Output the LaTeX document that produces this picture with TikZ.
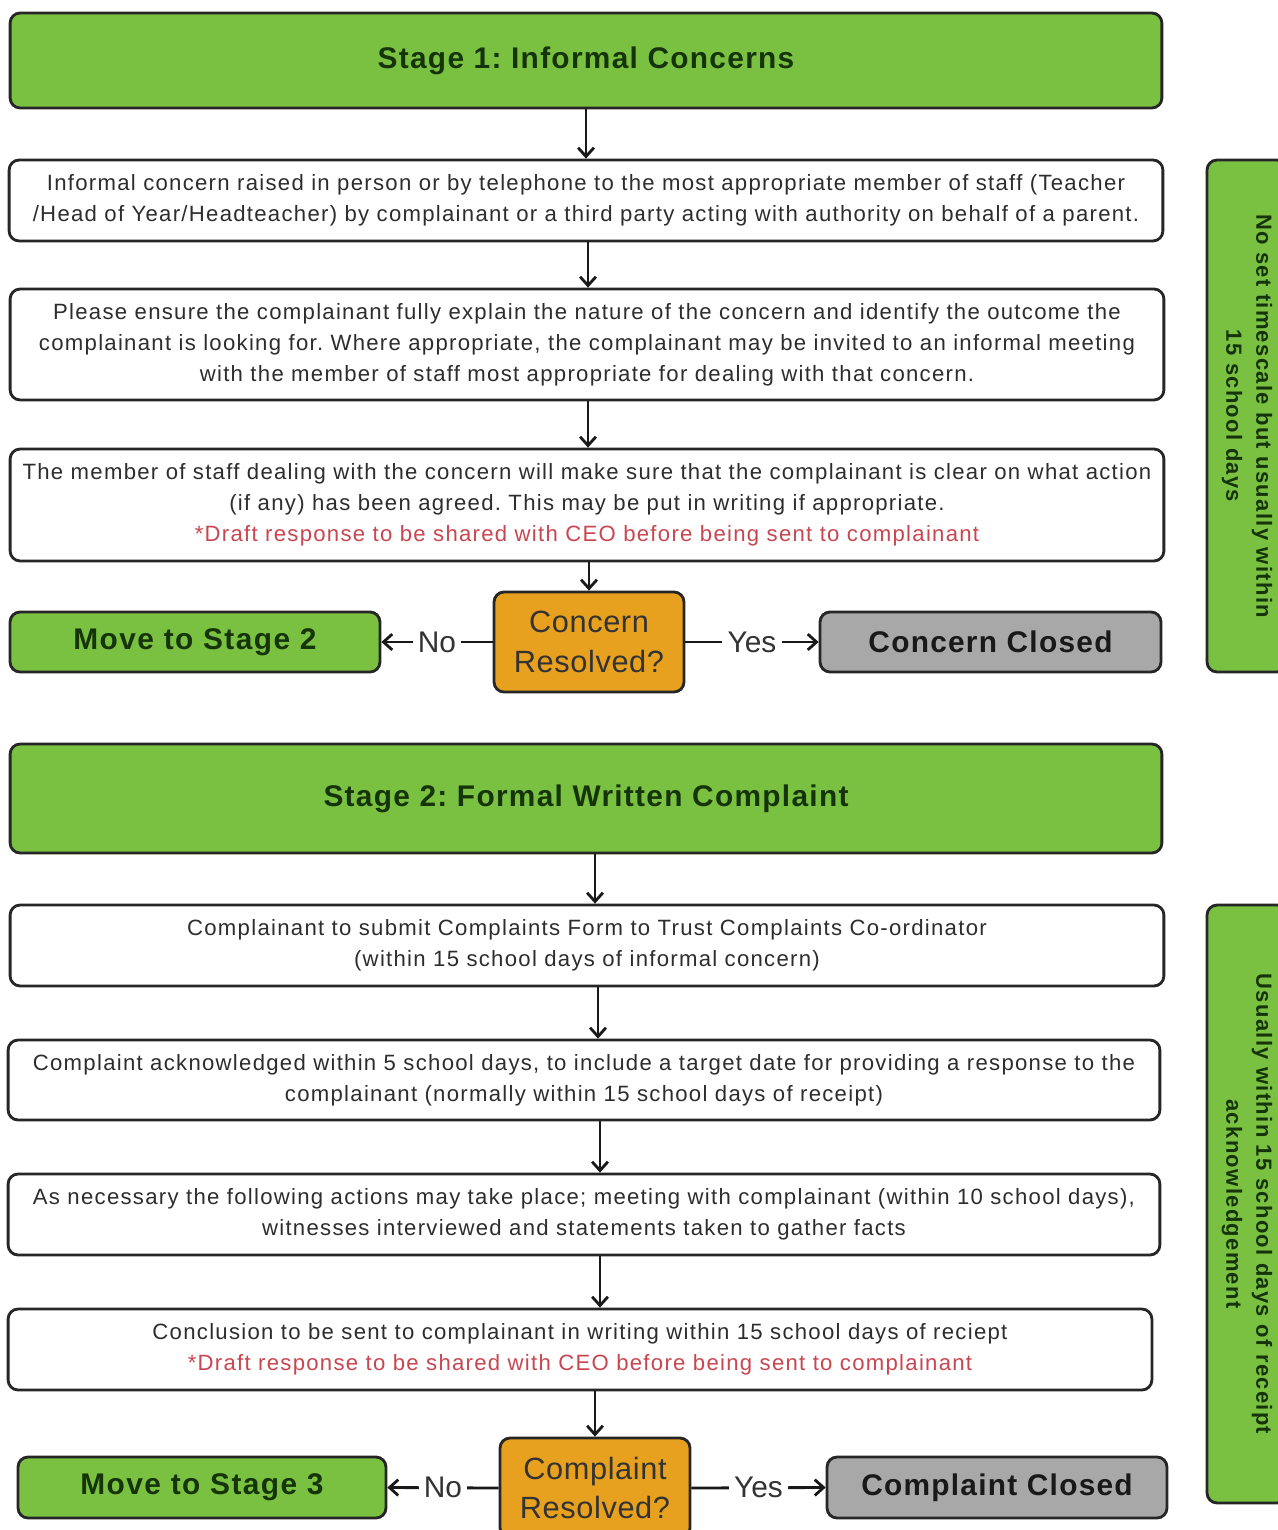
\documentclass[tikz,border=0pt]{standalone}
\usepackage{fontspec}
\setmainfont{Liberation Sans}
\usetikzlibrary{arrows.meta}
\definecolor{stagegreen}{RGB}{122,193,66}
\definecolor{darkgreen}{RGB}{22,52,10}
\definecolor{deciorange}{RGB}{232,161,30}
\definecolor{closegray}{RGB}{168,168,168}
\definecolor{bodygray}{RGB}{45,45,45}
\definecolor{ceored}{RGB}{200,70,80}
\tikzset{
  boxline/.style={draw=black!85,line width=1.6pt,rounded corners=0.2cm,inner sep=0pt},
  stagebox/.style={boxline,fill=stagegreen,text=darkgreen,font=\fontsize{17}{20}\selectfont\bfseries\addfontfeatures{LetterSpace=4.3},minimum width=23.04cm},
  textbox/.style={boxline,fill=white,text=bodygray,align=center,font=\fontsize{12.6}{17.6}\selectfont\addfontfeatures{LetterSpace=5.8},minimum width=23.08cm,minimum height=1.62cm},
  decision/.style={boxline,fill=deciorange,text=black!80,align=center,font=\fontsize{17.5}{22.7}\selectfont\addfontfeatures{LetterSpace=2},minimum width=3.8cm,minimum height=2cm},
  movebox/.style={boxline,fill=stagegreen,text=darkgreen,font=\fontsize{17}{20}\selectfont\bfseries\addfontfeatures{LetterSpace=4.8},minimum height=1.2cm},
  closedbox/.style={boxline,fill=closegray,text=black!90,font=\fontsize{17}{20}\selectfont\bfseries\addfontfeatures{LetterSpace=4.2},minimum height=1.2cm},
  sidebox/.style={boxline,fill=stagegreen,text=darkgreen,align=center,rotate=-90,font=\fontsize{12.5}{17}\selectfont\bfseries\addfontfeatures{LetterSpace=6.1},minimum height=1.6cm},
  arr/.style={-{Straight Barb[length=5pt,width=9pt]},line width=1.6pt,black!90},
  lab/.style={fill=white,inner sep=3pt,text=black!80,font=\fontsize{17}{20}\selectfont}
}
\newcommand{\ceonote}{\textcolor{ceored}{*Draft response to be shared with CEO before being sent to complainant}}
\frenchspacing
\begin{document}
\begin{tikzpicture}[x=0.02cm,y=-0.02cm]
  \useasboundingbox[fill=white] (0,0) rectangle (1277,1530);

  \node[stagebox,minimum height=1.9cm] (s1) at (586,60.5) {Stage 1: Informal Concerns};
  \node[textbox] (b1) at (586,200.5) {Informal concern raised in person or by telephone to the most appropriate member of staff (Teacher\\/Head of Year/Headteacher) by complainant or a third party acting with authority on behalf of a parent.};
  \node[textbox,minimum height=2.22cm] (b2) at (587,344.5) {Please ensure the complainant fully explain the nature of the concern and identify the outcome the\\complainant is looking for. Where appropriate, the complainant may be invited to an informal meeting\\with the member of staff most appropriate for dealing with that concern.};
  \node[textbox,minimum height=2.24cm] (b3) at (587,505) {The member of staff dealing with the concern will make sure that the complainant is clear on what action\\(if any) has been agreed. This may be put in writing if appropriate.\\\ceonote};
  \node[decision] (d1) at (589,642) {Concern\\Resolved?};
  \node[movebox,minimum width=7.4cm] (m2) at (195,642) {Move to Stage 2};
  \node[closedbox,minimum width=6.82cm] (c1) at (990.5,642) {Concern Closed};
  \node[sidebox,minimum width=10.24cm] (t1) at (1247,416) {No set timescale but usually within\\15 school days};

  \node[stagebox,minimum height=2.18cm] (s2) at (586,798.5) {Stage 2: Formal Written Complaint};
  \node[textbox] (b4) at (587,945.5) {Complainant to submit Complaints Form to Trust Complaints Co-ordinator\\(within 15 school days of informal concern)};
  \node[textbox,minimum width=23.04cm,minimum height=1.6cm] (b5) at (584,1080) {Complaint acknowledged within 5 school days, to include a target date for providing a response to the\\complainant (normally within 15 school days of receipt)};
  \node[textbox,minimum width=23.04cm] (b6) at (584,1214.5) {As necessary the following actions may take place; meeting with complainant (within 10 school days),\\witnesses interviewed and statements taken to gather facts};
  \node[textbox,minimum width=22.88cm] (b7) at (580,1349.5) {Conclusion to be sent to complainant in writing within 15 school days of reciept\\\ceonote};
  \node[decision] (d2) at (595,1488) {Complaint\\Resolved?};
  \node[movebox,minimum width=7.36cm,minimum height=1.22cm] (m3) at (202,1487.5) {Move to Stage 3};
  \node[closedbox,minimum width=6.8cm,minimum height=1.22cm] (c2) at (997,1487.5) {Complaint Closed};
  \node[sidebox,minimum width=11.96cm] (t2) at (1247,1204) {Usually within 15 school days of receipt\\acknowledgement};

  \draw[arr] (s1.south) -- (s1.south |- b1.north);
  \draw[arr] (b1.south -| 588,0) -- (b2.north -| 588,0);
  \draw[arr] (b2.south -| 588,0) -- (b3.north -| 588,0);
  \draw[arr] (d1.north |- b3.south) -- (d1.north);
  \draw[arr] (d1.west) -- node[lab]{No} (m2.east);
  \draw[arr] (d1.east) -- node[lab]{Yes} (c1.west);

  \draw[arr] (s2.south -| 595,0) -- (b4.north -| 595,0);
  \draw[arr] (b4.south -| 598,0) -- (b5.north -| 598,0);
  \draw[arr] (b5.south -| 600,0) -- (b6.north -| 600,0);
  \draw[arr] (b6.south -| 600,0) -- (b7.north -| 600,0);
  \draw[arr] (d2.north |- b7.south) -- (d2.north);
  \draw[arr] (d2.west) -- node[lab]{No} (m3.east);
  \draw[arr] (d2.east) -- node[lab]{Yes} (c2.west);
\end{tikzpicture}
\end{document}
